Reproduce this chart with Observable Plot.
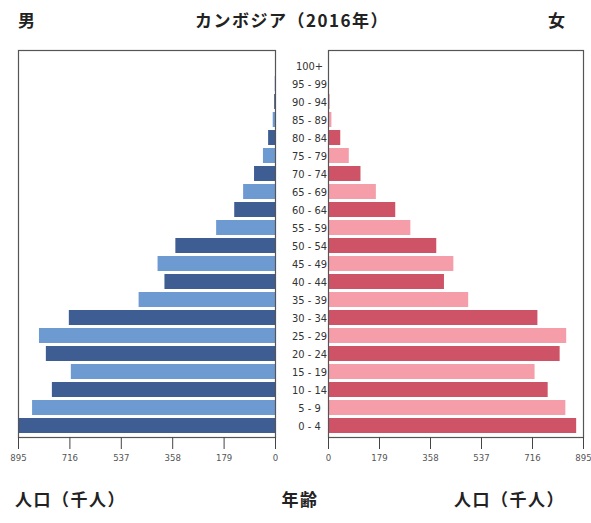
<!DOCTYPE html>
<html><head><meta charset="utf-8">
<script src="https://cdn.jsdelivr.net/npm/d3@7"></script>
<script src="https://cdn.jsdelivr.net/npm/@observablehq/plot@0.6"></script>
<style>
body{margin:0;background:#fff;font-family:"Noto Sans CJK JP",sans-serif;}
#wrap{position:relative;width:591px;height:523px;overflow:hidden;}
.t{position:absolute;font-family:"Noto Sans CJK JP";font-weight:700;font-size:17px;letter-spacing:1.5px;color:#222;white-space:nowrap;line-height:24px;}
#row{position:absolute;left:0;top:40px;display:flex;}
svg{overflow:visible;}
</style></head><body>
<div id="wrap">
<div class="t" style="left:18px;top:8px;">男</div>
<div class="t" style="left:292px;top:8px;transform:translateX(-50%);">カンボジア（2016年）</div>
<div class="t" style="left:548px;top:8px;">女</div>
<div id="row"></div>
<div class="t" style="left:15px;top:487px;">人口（千人）</div>
<div class="t" style="left:300px;top:487px;transform:translateX(-50%);">年齢</div>
<div class="t" style="left:454px;top:487px;">人口（千人）</div>
</div>
<script>
const ages = ["0 - 4","5 - 9","10 - 14","15 - 19","20 - 24","25 - 29","30 - 34","35 - 39","40 - 44","45 - 49","50 - 54","55 - 59","60 - 64","65 - 69","70 - 74","75 - 79","80 - 84","85 - 89","90 - 94","95 - 99","100+"];
const male   = [895, 846, 777, 711, 798, 822, 718, 475, 385, 409, 347, 205, 142, 111, 73, 42, 24, 8, 3, 1, 0];
const female = [871, 833, 771, 725, 813, 836, 735, 492, 407, 440, 380, 289, 236, 168, 114, 73, 43, 12, 5, 1, 0];
const ticks = [0, 179, 358, 537, 716, 895];
const maleColors = ["#3e5d93", "#6e9ad2"];
const femaleColors = ["#cf5367", "#f59ea9"];

const rows = ages.map((a, i) => ({age: a, i, male: male[i], female: female[i]}));
const order = ages.slice().reverse();
const H = 432, MT = 10, MB = 35;
const yOpts = {domain: order, padding: 0.17, insetTop: 4, axis: null};
const tickFont = "DejaVu Sans Condensed, DejaVu Sans, sans-serif";

const left = Plot.plot({
  width: 328, height: H, marginLeft: 18, marginRight: 53, marginTop: MT, marginBottom: MB,
  style: {fontFamily: tickFont, fontSize: "10px", color: "#444", background: "transparent"},
  x: {domain: [895, 0], axis: null},
  y: yOpts,
  marks: [
    Plot.barX(rows, {x: "male", y: "age", fill: d => maleColors[d.i % 2]}),
    Plot.frame({stroke: "#555", strokeWidth: 1.2}),
    Plot.axisX({ticks, label: null, tickSize: 12, tickPadding: 5, stroke: "#444", fontSize: 9.5, fill: "#555"}),
    Plot.axisY({anchor: "right", label: null, tickSize: 0, textAnchor: "middle", dx: 25, fontSize: 11, fill: "#333"})
  ]
});
const right = Plot.plot({
  width: 263, height: H, marginLeft: 0, marginRight: 8, marginTop: MT, marginBottom: MB,
  style: {fontFamily: tickFont, fontSize: "10px", color: "#444", background: "transparent"},
  x: {domain: [0, 895], axis: null},
  y: yOpts,
  marks: [
    Plot.barX(rows, {x: "female", y: "age", fill: d => femaleColors[d.i % 2]}),
    Plot.frame({stroke: "#555", strokeWidth: 1.2}),
    Plot.axisX({ticks, label: null, tickSize: 12, tickPadding: 5, stroke: "#444", fontSize: 9.5, fill: "#555"})
  ]
});
document.getElementById("row").append(left, right);
</script>
</body></html>
